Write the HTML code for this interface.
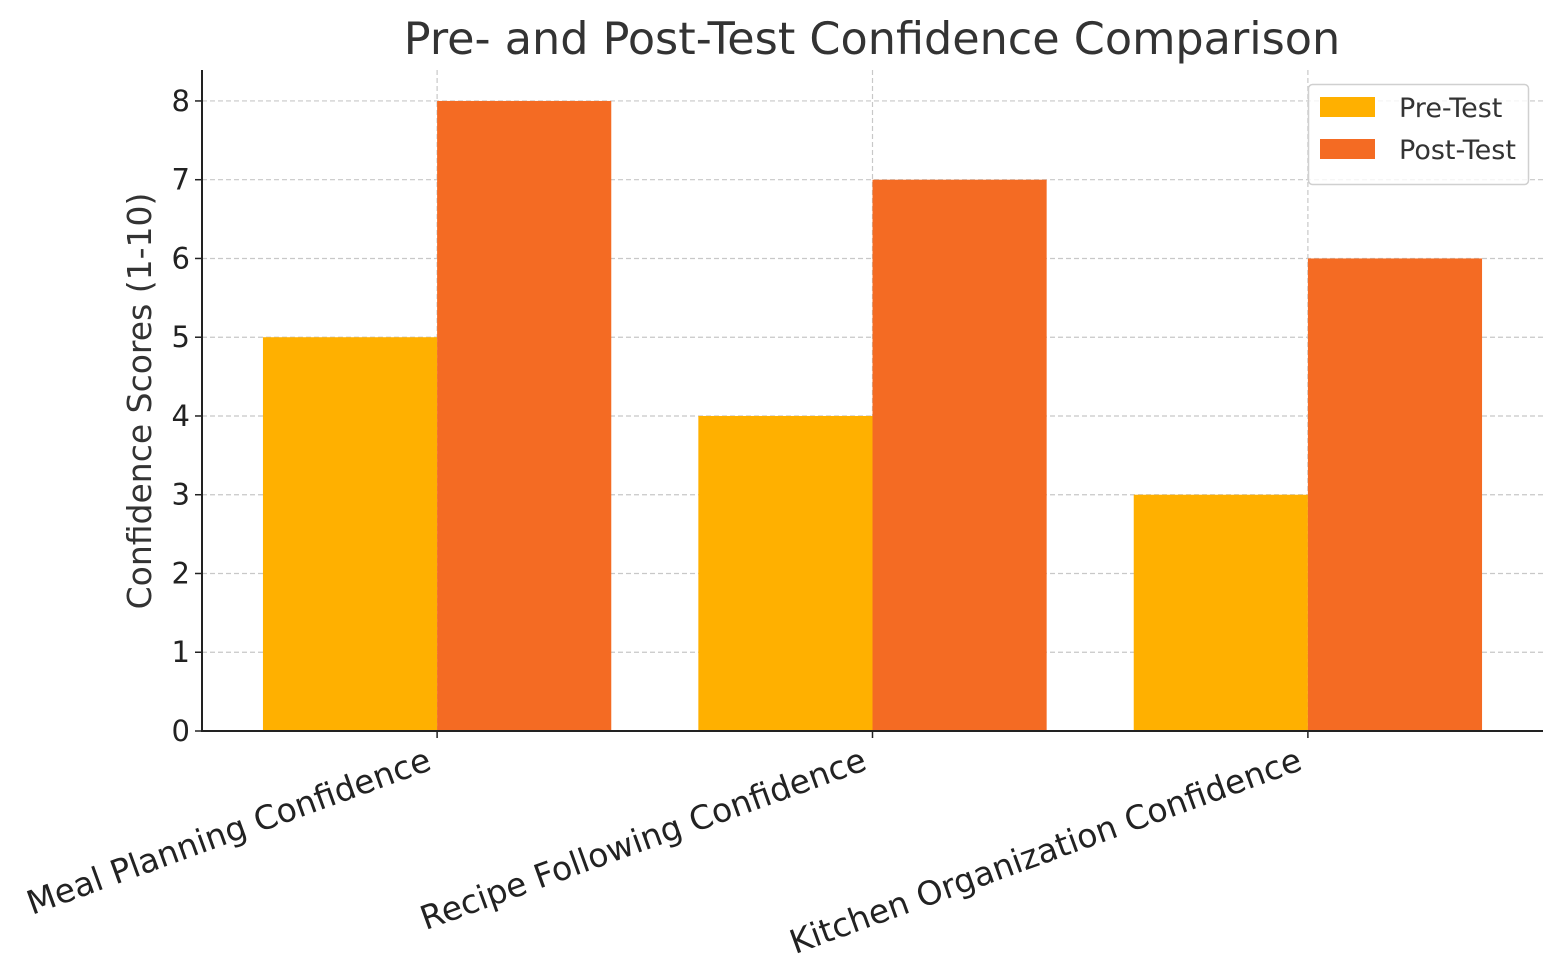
<!DOCTYPE html>
<html><head><meta charset="utf-8"><style>
body{margin:0;background:#fff;}
svg{display:block;font-family:"DejaVu Sans","Liberation Sans",sans-serif;}
</style></head><body>
<svg id="chart" width="1562" height="979">
<text x="872" y="54" text-anchor="middle" font-size="44.5" fill="#333">Pre- and Post-Test Confidence Comparison</text>
<text transform="translate(151,401) rotate(-90)" text-anchor="middle" font-size="33" fill="#333">Confidence Scores (1-10)</text>
<g id="grid"></g><g id="bars"></g><g id="axes"></g>
<g>
<rect x="1308.5" y="84.5" width="220" height="100" rx="4" fill="#fff" fill-opacity="0.8" stroke="#d0d0d0" stroke-width="1.5"/>
<rect x="1320" y="97" width="55" height="20" fill="#FFB000"/>
<text x="1399" y="117" font-size="27" fill="#333">Pre-Test</text>
<rect x="1320" y="139" width="55" height="20" fill="#F46B23"/>
<text x="1399" y="159" font-size="27" fill="#333">Post-Test</text>
</g>
</svg>
<script>
const categories = ["Meal Planning Confidence","Recipe Following Confidence","Kitchen Organization Confidence"];
const preTest = [5,4,3];
const postTest = [8,7,6];
const yTicks = [0,1,2,3,4,5,6,7,8];
const NS="http://www.w3.org/2000/svg";
const L=202,R=1543,T=70,B=731;
const xMin=-0.54,xMax=2.54,yMax=8.393;
const xs=v=>L+(v-xMin)/(xMax-xMin)*(R-L);
const ys=v=>B-v/yMax*(B-T);
const unit=xs(1)-xs(0), bw=0.4*unit;
function mk(tag,attrs,parent){const e=document.createElementNS(NS,tag);for(const k in attrs)e.setAttribute(k,attrs[k]);parent.appendChild(e);return e;}
const grid=document.getElementById('grid'),bars=document.getElementById('bars'),axes=document.getElementById('axes');
yTicks.forEach(t=>{
 if(t>0){const g=mk('line',{x1:L,x2:R,y1:ys(t),y2:ys(t),stroke:'#c8c8c8','stroke-dasharray':'5,3','stroke-width':1.2},grid);
 
 }
 const tk=mk('line',{x1:L-7,x2:L,y1:ys(t),y2:ys(t),stroke:'#222','stroke-width':1.5},axes);
 
 
 const lb=mk('text',{x:L-12,y:ys(t)+10,'text-anchor':'end','font-size':29,fill:'#222'},axes);
 lb.textContent=t;
 
 
});
categories.forEach((c,i)=>{
 const cx=xs(i);
 const g=mk('line',{x1:cx,x2:cx,y1:T,y2:B,stroke:'#c8c8c8','stroke-dasharray':'5,3','stroke-width':1.2},grid);
 
 
 const b1=mk('rect',{x:cx-bw,y:ys(preTest[i]),width:bw,height:B-ys(preTest[i]),fill:'#FFB000'},bars);
 
 
 const b2=mk('rect',{x:cx,y:ys(postTest[i]),width:bw,height:B-ys(postTest[i]),fill:'#F46B23'},bars);
 
 
 const tk=mk('line',{x1:cx,x2:cx,y1:B,y2:B+7,stroke:'#222','stroke-width':1.5},axes);
 
 
 const lb=mk('text',{transform:`translate(${cx-4},${B+38}) rotate(-20)`,'text-anchor':'end','font-size':33,fill:'#222'},axes);
 lb.textContent=c;
 
 
});
const ax=mk('path',{d:`M${L},${T} V${B} H${R}`,fill:'none',stroke:'#222','stroke-width':2},axes);


</script>
</body></html>
